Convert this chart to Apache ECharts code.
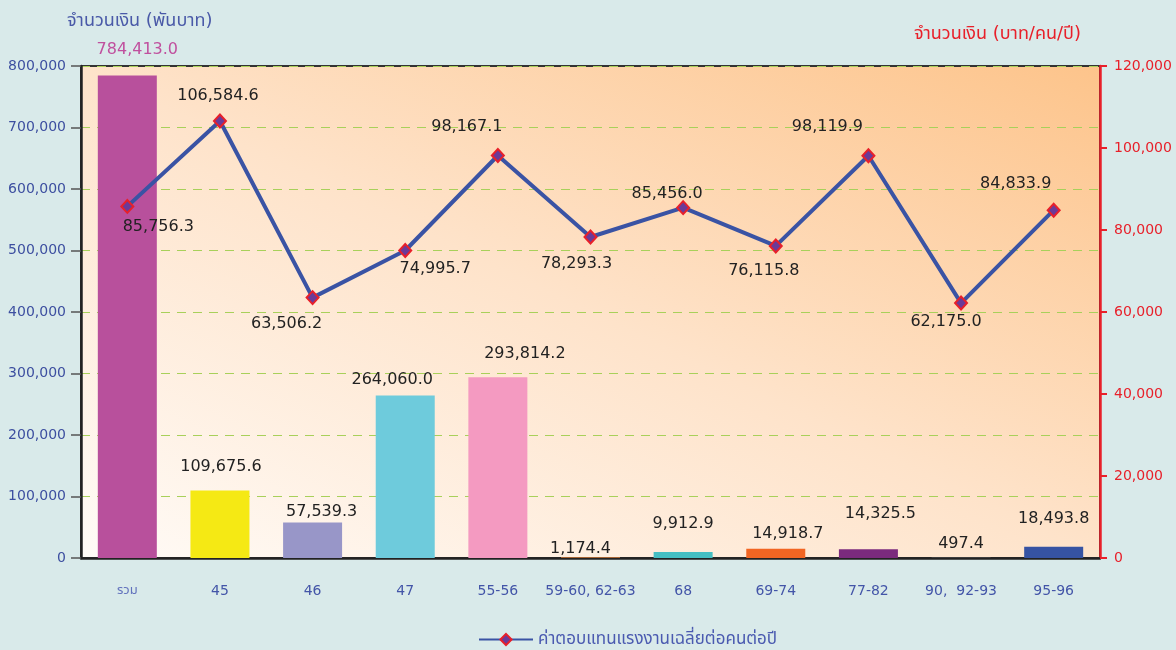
<!DOCTYPE html>
<html lang="th">
<head>
<meta charset="UTF-8">
<title>ค่าตอบแทนแรงงาน</title>
<script src="https://cdn.jsdelivr.net/npm/echarts@6/dist/echarts.min.js"></script>
<style>
  html,body{margin:0;height:100%;background:#d9eaea;}
  #chart{width:1176px;height:650px;}
</style>
</head>
<body>
<div id="chart"></div>
<script>
const categories = ['รวม','45','46','47','55-56','59-60, 62-63','68','69-74','77-82','90,  92-93','95-96'];
const amountValues = [784413.0,109675.6,57539.3,264060.0,293814.2,1174.4,9912.9,14918.7,14325.5,497.4,18493.8];
const avgValues = [85756.3,106584.6,63506.2,74995.7,98167.1,78293.3,85456.0,76115.8,98119.9,62175.0,84833.9];
const barColors = ['#b8509c','#f5e914','#9896c8','#6ecbdc','#f49ac1','#d07a3a','#45bfc3','#f26522','#7b2a7d','#888','#3653a3'];
const leftTicks = {min:0,max:800000,interval:100000};
const rightTicks = {min:0,max:120000,interval:20000};

// label nudges (px) so the numbers sit where the original put them
const barLabelShift = [[10,-26],[1,-24],[9,-11],[-13,-16],[27,-23],[-10,-8],[0,-28],[12,-15],[12,-35],[0,-14],[0,-28]];
const lineLabelShift = [[31,20],[-2,-25],[-26,26],[30,18],[-31,-29],[-14,27],[-16,-14],[-12,25],[-41,-29],[-15,19],[-38,-26]];

const fmt = v => v.toLocaleString('en-US',{minimumFractionDigits:1,maximumFractionDigits:1});
const FONT = 'Tahoma, "DejaVu Sans", "Noto Sans Thai", "Noto Sans", sans-serif';

const chart = echarts.init(document.getElementById('chart'));

// plot background: white in the lower left, orange toward the upper right
const plotFill = new echarts.graphic.LinearGradient(81,558,465,-239,[
  {offset:0,color:'#fffbf7'},
  {offset:0.5,color:'#fee3ca'},
  {offset:1,color:'#fdc48b'}
],true);

chart.setOption({
  backgroundColor:'#d9eaea',
  textStyle:{fontFamily:FONT},
  title:[
    {text:'จำนวนเงิน (พันบาท)',left:62,top:7,textStyle:{fontSize:18,fontWeight:'normal',color:'#4a5aa8',fontFamily:FONT}},
    {text:'จำนวนเงิน (บาท/คน/ปี)',right:90,top:20,textStyle:{fontSize:18,fontWeight:'normal',color:'#e8202a',fontFamily:FONT}}
  ],
  legend:{
    left:473,top:626,itemWidth:54,itemHeight:14,itemGap:12,
    data:['ค่าตอบแทนแรงงานเฉลี่ยต่อคนต่อปี'],
    textStyle:{fontSize:17,color:'#4a5ab0',fontFamily:FONT}
  },
  grid:{
    left:81,right:76,top:66,bottom:92,show:true,
    containLabel:false,outerBoundsMode:'none',
    borderColor:'#333',borderWidth:2,
    backgroundColor:plotFill
  },
  xAxis:{
    type:'category',
    data:categories.map((c,i)=> i===0 ? {value:c,textStyle:{fontSize:13,color:'#6272bd'}} : c),
    axisLine:{lineStyle:{color:'#222',width:2.5}},
    axisTick:{length:8,lineStyle:{color:'#222',width:2}},
    axisLabel:{color:'#4355a8',fontSize:14,margin:26,interval:0,fontFamily:FONT}
  },
  yAxis:[
    {
      type:'value',...leftTicks,
      axisLine:{show:true,lineStyle:{color:'#222',width:2.5}},
      axisTick:{show:true,length:10,lineStyle:{color:'#555',width:1.5}},
      axisLabel:{color:'#3d4fa0',fontSize:14,margin:15,formatter:v=>v.toLocaleString('en-US'),fontFamily:FONT},
      splitLine:{lineStyle:{color:'#a8d05a',type:[9,7],width:1.2}}
    },
    {
      type:'value',...rightTicks,position:'right',
      axisLine:{show:true,lineStyle:{color:'#e8202a',width:2.5}},
      axisTick:{show:true,length:7,lineStyle:{color:'#e8202a',width:2}},
      axisLabel:{color:'#e8202a',fontSize:14,margin:14,formatter:v=>v.toLocaleString('en-US'),fontFamily:FONT},
      splitLine:{show:false}
    }
  ],
  series:[
    {
      name:'จำนวนเงิน',type:'bar',barWidth:59,
      data:amountValues.map((v,i)=>({
        value:v,
        itemStyle:{color:barColors[i]},
        label:{offset:[barLabelShift[i][0],barLabelShift[i][1]+9],color:i===0?'#c0509e':'#222'}
      })),
      label:{show:true,position:'top',distance:0,fontSize:16,lineHeight:18,formatter:p=>fmt(p.value),fontFamily:FONT}
    },
    {
      name:'ค่าตอบแทนแรงงานเฉลี่ยต่อคนต่อปี',type:'line',yAxisIndex:1,z:5,
      data:avgValues.map((v,i)=>({value:v,label:{offset:lineLabelShift[i]}})),
      lineStyle:{color:'#3a53a4',width:4},
      symbol:'diamond',symbolSize:[12,13],
      itemStyle:{color:'#6b3a98',borderColor:'#e8202a',borderWidth:2},
      label:{show:true,position:'inside',fontSize:16,color:'#222',formatter:p=>fmt(p.value),fontFamily:FONT}
    }
  ]
});
</script>
</body>
</html>
